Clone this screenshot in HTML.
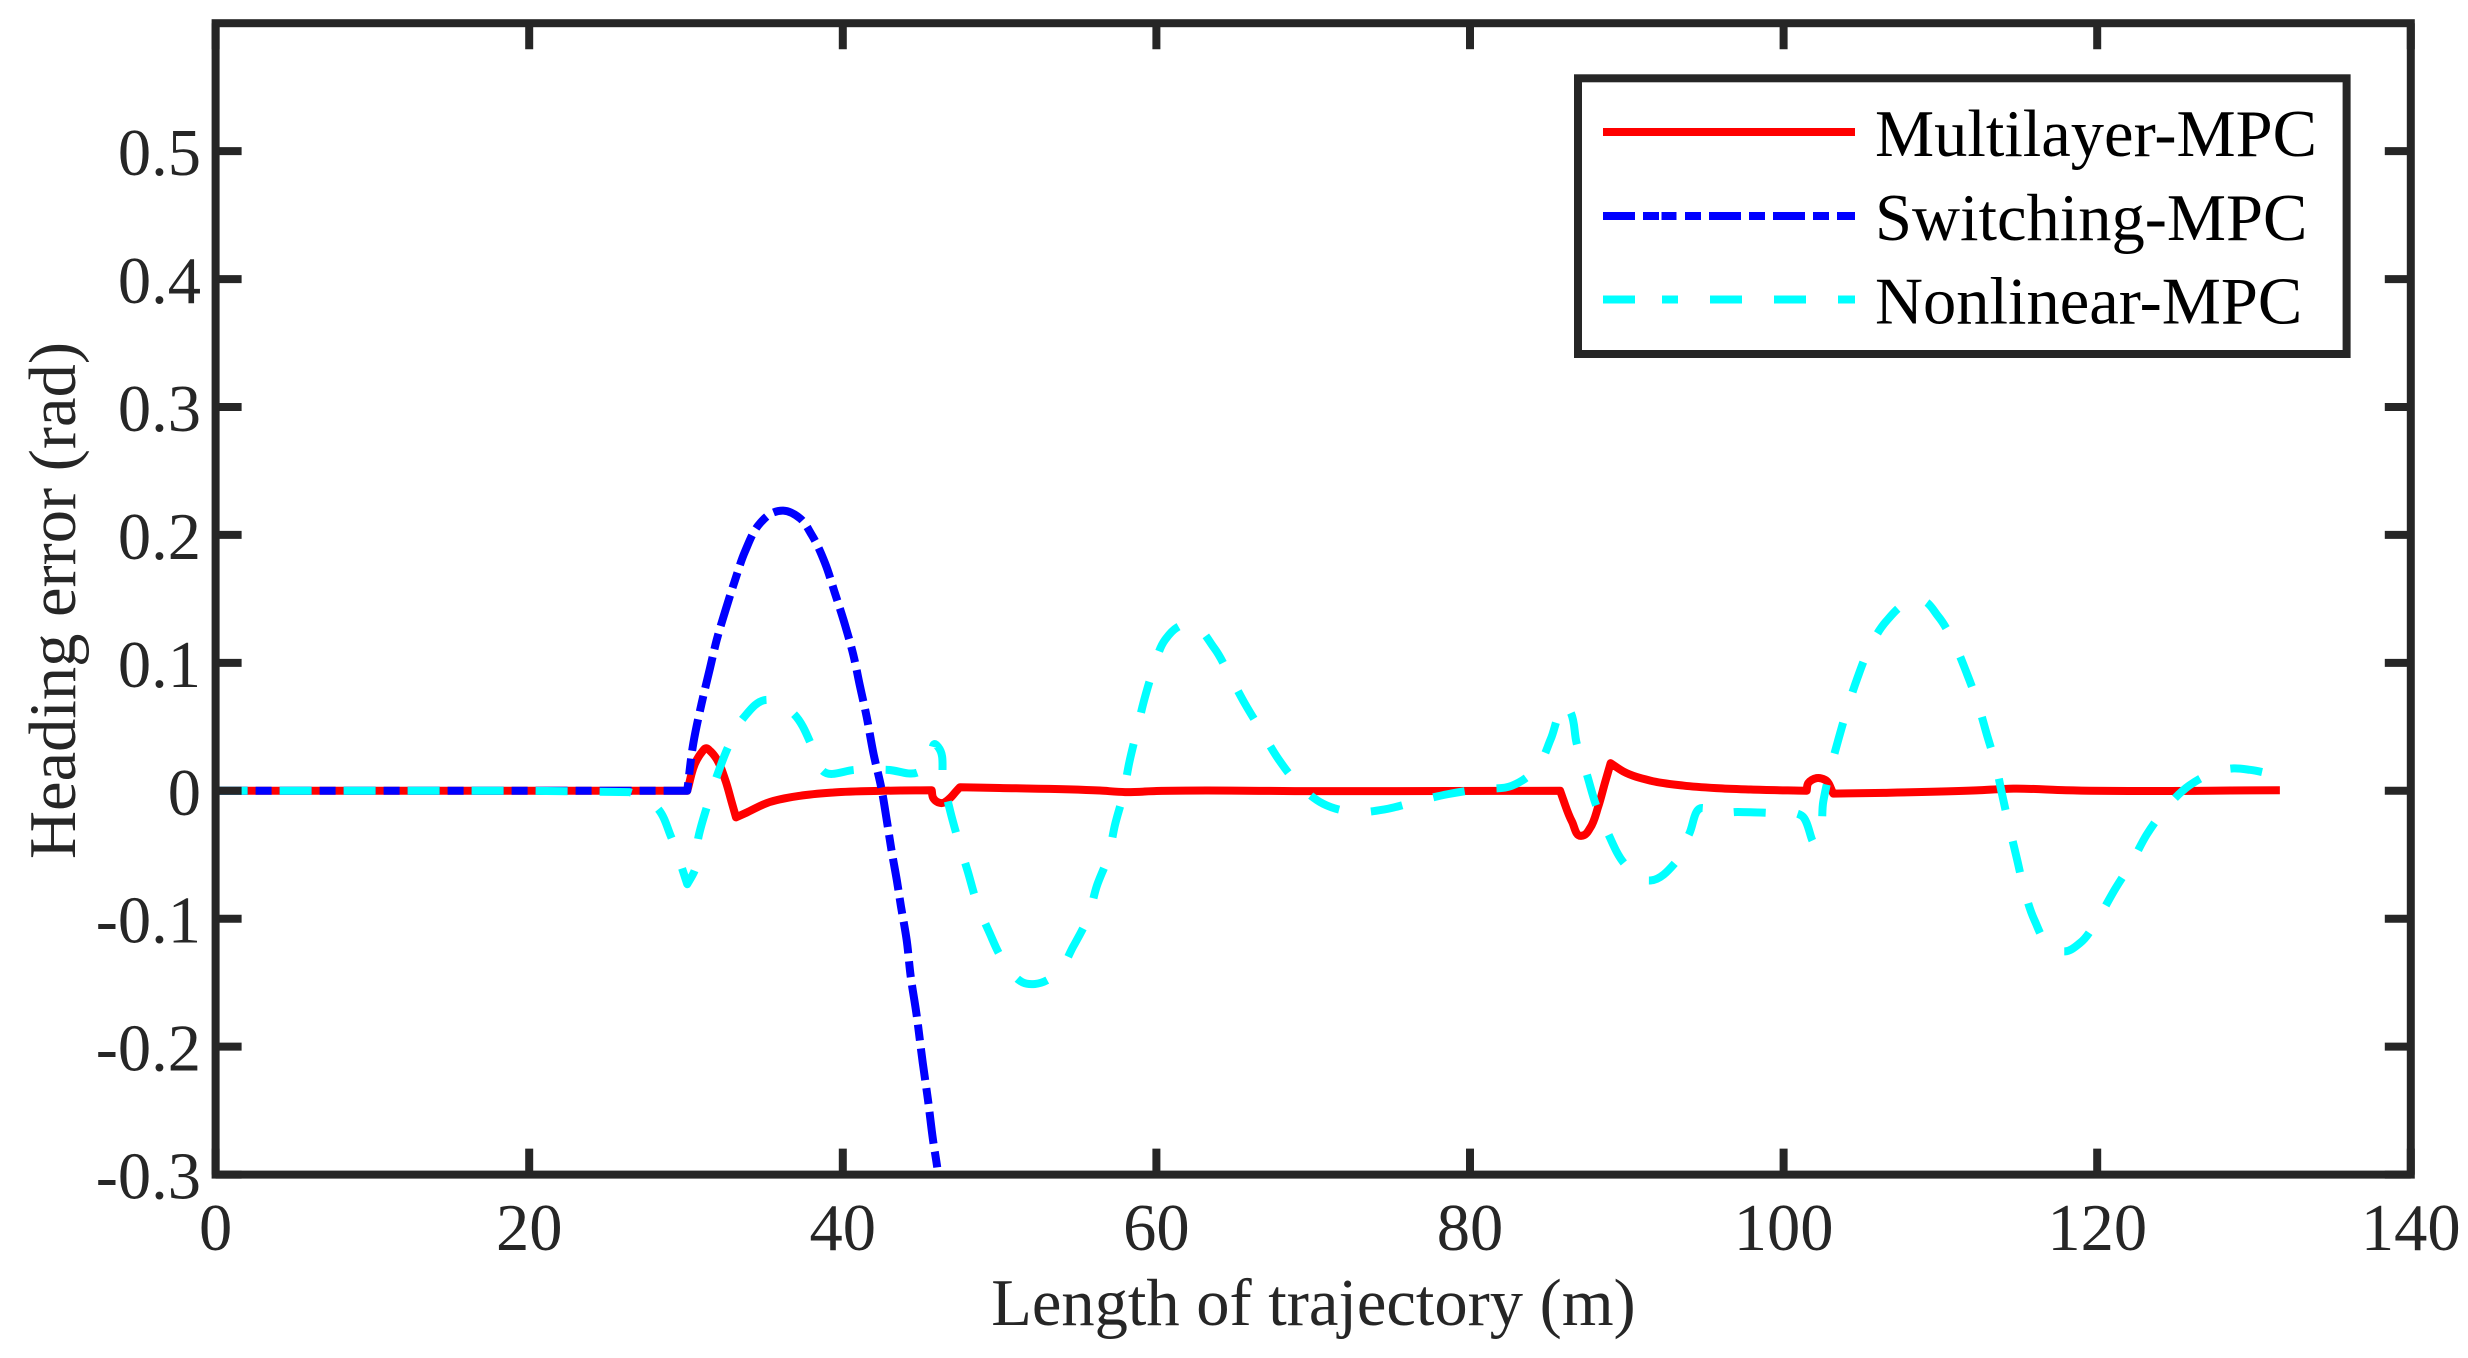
<!DOCTYPE html>
<html lang="en">
<head>
<meta charset="utf-8">
<title>Heading error vs length of trajectory</title>
<style>
html,body{margin:0;padding:0;background:#fff;}
svg{display:block;}
text{font-family:"Liberation Serif",serif;font-size:66.5px;}
</style>
</head>
<body>
<svg id="chart" xmlns="http://www.w3.org/2000/svg" width="2468" height="1358" viewBox="0 0 2468 1358">
  <rect x="0" y="0" width="2468" height="1358" fill="#fff"/>
  <defs>
    <clipPath id="plot-clip"><rect x="215.6" y="23" width="2195.2" height="1152"/></clipPath>
  </defs>
  <g id="series-layer" clip-path="url(#plot-clip)"></g>
  <g id="axes-layer"></g>
  <text x="1313.5" y="1325" text-anchor="middle" fill="#262626">Length of trajectory (m)</text>
  <text transform="translate(75,600.5) rotate(-90)" text-anchor="middle" fill="#262626">Heading error (rad)</text>
  <g>
    <rect x="1578" y="78.3" width="768.6" height="275.7" fill="#fff" stroke="#262626" stroke-width="8"/>
    <line x1="1603" x2="1855" y1="132" y2="132" stroke="#f00" stroke-width="8"/>
    <text x="1875" y="156" fill="#000">Multilayer-MPC</text>
    <line x1="1603" x2="1855" y1="216" y2="216" stroke="#00f" stroke-width="8" stroke-dasharray="32 8 16 2.5 15 8.5 16 8 32 8 16 8 32 8 16 8 18 100"/>
    <text x="1875" y="240" fill="#000">Switching-MPC</text>
    <line x1="1603" x2="1855" y1="299.5" y2="299.5" stroke="#0ff" stroke-width="8" stroke-dasharray="32 27 16 32 32 32 32 32 18 100"/>
    <text x="1875" y="323.5" fill="#000">Nonlinear-MPC</text>
  </g>
</svg>
<script>
// Chart data
const xTicks = [0, 20, 40, 60, 80, 100, 120, 140];
const yTicks = [-0.3, -0.2, -0.1, 0, 0.1, 0.2, 0.3, 0.4, 0.5];
const yTickLabels = ['-0.3', '-0.2', '-0.1', '0', '0.1', '0.2', '0.3', '0.4', '0.5'];

const multilayerX = [0, 30.08, 30.68, 31.0, 31.3, 31.55, 31.85, 32.5, 32.9, 33.19, 33.87, 35.15, 37.27, 39.4, 42.6, 45.67, 45.77, 46.0, 46.3, 46.84, 47.2, 47.47, 50, 56.4, 58, 60, 70, 85.75, 85.95, 86.5, 87.08, 87.3, 87.66, 88.18, 88.6, 88.97, 89.78, 91.5, 93.6, 95.7, 97.9, 101.47, 101.57, 101.8, 102.1, 102.64, 103.17, 106.4, 112.3, 114.65, 118, 131.65];
const multilayerY = [0, 0, 0.024, 0.03, 0.0333, 0.031, 0.0268, 0.0086, -0.0083, -0.0208, -0.017, -0.0096, -0.0039, -0.0013, 0, 0.0004, -0.0057, -0.0085, -0.0096, -0.0057, -0.0008, 0.0028, 0.0022, 0.0002, -0.001, -0.0002, -0.0003, 0, -0.007, -0.024, -0.0352, -0.0345, -0.0291, -0.0123, 0.006, 0.0216, 0.0151, 0.008, 0.0041, 0.0021, 0.001, 0, 0.006, 0.0085, 0.0099, 0.0086, -0.0022, -0.0016, 0.0003, 0.0017, 0.0004, 0.0004];
const multilayerBreaks = [30.08, 33.19, 45.67, 47.47, 85.75, 88.97, 101.47, 103.17];

const switchingX = [0, 30.08, 30.47, 31, 31.53, 31.96, 32.49, 33.13, 33.76, 34.72, 35.47, 36.2, 37.27, 38.02, 38.87, 39.5, 40.14, 40.67, 41.1, 41.52, 41.95, 42.48, 42.8, 43.1, 43.44, 43.71, 44.07, 44.33, 44.69, 45.1, 45.43, 45.75, 46.04, 46.1];
const switchingY = [0, 0, 0.0373, 0.0685, 0.0958, 0.118, 0.14, 0.1648, 0.187, 0.2091, 0.217, 0.219, 0.213, 0.2, 0.1779, 0.1544, 0.1297, 0.1063, 0.0815, 0.058, 0.0295, 0.0008, -0.0227, -0.0461, -0.0695, -0.0904, -0.1164, -0.145, -0.1737, -0.2128, -0.2414, -0.2727, -0.296, -0.302];
const switchingBreaks = [30.08];

const nonlinearX = [0, 20, 26.4, 27.3, 28.17, 29.04, 29.72, 30.08, 30.53, 30.78, 31.32, 31.96, 32.7, 33.65, 35.15, 36.0, 36.89, 37.9, 38.3, 38.7, 40.84, 42.84, 44.92, 45.5, 45.95, 46.09, 46.4, 46.84, 47.37, 47.97, 48.54, 49.32, 50.28, 51.73, 52.26, 53.64, 54.7, 55.66, 56.19, 56.93, 57.36, 57.89, 58.27, 58.74, 59.21, 59.8, 60.55, 61.3, 61.82, 62.25, 63.69, 64.69, 65.65, 66.72, 67.78, 69.05, 70.64, 72.56, 74.58, 76.64, 78.6, 80.6, 82.66, 84.25, 85.15, 85.85, 86.1, 86.42, 86.8, 87.44, 88.03, 88.82, 89.82, 91, 91.48, 93.07, 93.98, 94.88, 95.4, 97.1, 99.17, 101.16, 102.1, 102.25, 102.53, 102.96, 103.5, 104.06, 104.7, 105.45, 106.53, 108.06, 108.8, 109.87, 110.87, 111.68, 112.38, 112.95, 113.53, 113.95, 114.4, 114.87, 115.35, 115.99, 117.03, 117.96, 118.9, 120.07, 121.14, 122.2, 123.15, 124.39, 125.87, 127.62, 128.7, 129.74, 131.7];
const nonlinearY = [0, 0, -0.001, -0.005, -0.0135, -0.0357, -0.0596, -0.073, -0.063, -0.037, -0.013, 0.0112, 0.0346, 0.0568, 0.0711, 0.0685, 0.0599, 0.0385, 0.025, 0.0158, 0.0164, 0.0164, 0.0152, 0.022, 0.036, 0.0341, 0.0091, -0.0154, -0.039, -0.063, -0.087, -0.11, -0.1334, -0.1508, -0.151, -0.143, -0.1216, -0.0982, -0.0748, -0.0513, -0.0266, -0.0026, 0.0221, 0.0463, 0.0705, 0.0945, 0.118, 0.1275, 0.1302, 0.1297, 0.1115, 0.0898, 0.068, 0.0463, 0.0248, 0.0052, -0.0102, -0.0166, -0.0145, -0.0081, -0.0026, 0.0013, 0.0039, 0.0177, 0.0404, 0.0638, 0.068, 0.0612, 0.0373, 0.0133, -0.0109, -0.0338, -0.0565, -0.0695, -0.0701, -0.0565, -0.0336, -0.0135, -0.0165, -0.0166, -0.0174, -0.0195, -0.0396, -0.036, -0.0084, 0.0156, 0.0404, 0.0641, 0.088, 0.1109, 0.1323, 0.1479, 0.149, 0.1362, 0.1154, 0.0919, 0.0685, 0.0445, 0.0203, -0.0037, -0.0284, -0.0526, -0.0773, -0.1008, -0.1216, -0.1255, -0.119, -0.0995, -0.0768, -0.056, -0.0344, -0.0135, 0.0041, 0.0151, 0.0175, 0.0164, 0.0112];
const nonlinearBreaks = [20, 26.4, 30.08, 86.1];

// Axis functions
const xMin = 0, xMax = 140, yMin = -0.3, yMax = 0.6;
const plotLeft = 215.6, plotRight = 2410.8, plotTop = 23.2, plotBottom = 1174.6;
function xScale(v) { return plotLeft + (v - xMin) / (xMax - xMin) * (plotRight - plotLeft); }
function yScale(v) { return plotBottom - (v - yMin) / (yMax - yMin) * (plotBottom - plotTop); }

const SVG_NS = 'http://www.w3.org/2000/svg';
const seriesLayer = document.getElementById('series-layer');
const axesLayer = document.getElementById('axes-layer');

function unit(a, b) {
  const dx = b[0] - a[0], dy = b[1] - a[1], len = Math.hypot(dx, dy) || 1;
  return [dx / len, dy / len, len];
}

// Smooth curve through the points, keeping sharp corners at the x values listed in breaks.
function smoothPath(xs, ys, breaks) {
  const pts = xs.map(function (x, i) { return [xScale(x), yScale(ys[i])]; });
  const tangents = pts.map(function (p, i) {
    if (i === 0 || i === pts.length - 1) return null;
    const a = unit(pts[i - 1], p), b = unit(p, pts[i + 1]);
    const tx = a[0] * b[2] + b[0] * a[2], ty = a[1] * b[2] + b[1] * a[2];
    const len = Math.hypot(tx, ty) || 1;
    return [tx / len, ty / len];
  });
  const isBreak = xs.map(function (x) { return breaks.indexOf(x) !== -1; });
  let d = 'M' + pts[0][0].toFixed(2) + ' ' + pts[0][1].toFixed(2);
  for (let i = 0; i < pts.length - 1; i++) {
    const p = pts[i], q = pts[i + 1], chord = unit(p, q), h = chord[2] / 3;
    const t0 = (tangents[i] && !isBreak[i]) ? tangents[i] : chord;
    const t1 = (tangents[i + 1] && !isBreak[i + 1]) ? tangents[i + 1] : chord;
    d += 'C' + (p[0] + t0[0] * h).toFixed(2) + ' ' + (p[1] + t0[1] * h).toFixed(2) + ' ' +
         (q[0] - t1[0] * h).toFixed(2) + ' ' + (q[1] - t1[1] * h).toFixed(2) + ' ' +
         q[0].toFixed(2) + ' ' + q[1].toFixed(2);
  }
  return d;
}

function strokePath(d, color, dash) {
  const el = document.createElementNS(SVG_NS, 'path');
  el.setAttribute('d', d);
  el.setAttribute('fill', 'none');
  el.setAttribute('stroke', color);
  el.setAttribute('stroke-width', '8');
  el.setAttribute('stroke-linejoin', 'round');
  if (dash) el.setAttribute('stroke-dasharray', dash);
  return el;
}

// Series
const redLine = strokePath(smoothPath(multilayerX, multilayerY, multilayerBreaks), '#f00', null);


seriesLayer.appendChild(redLine);

const blueLine = strokePath(smoothPath(switchingX, switchingY, switchingBreaks), '#00f', '32 8 16 8');


seriesLayer.appendChild(blueLine);

const cyanLine = strokePath(smoothPath(nonlinearX, nonlinearY, nonlinearBreaks), '#0ff', '32 32');


seriesLayer.appendChild(cyanLine);

// Plot frame
const frame = document.createElementNS(SVG_NS, 'rect');
frame.setAttribute('x', plotLeft);
frame.setAttribute('y', plotTop);
frame.setAttribute('width', plotRight - plotLeft);
frame.setAttribute('height', plotBottom - plotTop);
frame.setAttribute('fill', 'none');
frame.setAttribute('stroke', '#262626');
frame.setAttribute('stroke-width', '8');


axesLayer.appendChild(frame);

function tickLine(x1, y1, x2, y2) {
  const el = document.createElementNS(SVG_NS, 'line');
  el.setAttribute('x1', x1);
  el.setAttribute('y1', y1);
  el.setAttribute('x2', x2);
  el.setAttribute('y2', y2);
  el.setAttribute('stroke', '#262626');
  el.setAttribute('stroke-width', '8');
  return el;
}

// X ticks and labels
xTicks.forEach(function (v) {
  const px = xScale(v);
  const bottomTick = tickLine(px, plotBottom, px, plotBottom - 26);
  
  
  axesLayer.appendChild(bottomTick);
  const topTick = tickLine(px, plotTop, px, plotTop + 26);
  
  
  axesLayer.appendChild(topTick);
  const label = document.createElementNS(SVG_NS, 'text');
  label.setAttribute('x', px);
  label.setAttribute('y', 1250);
  label.setAttribute('text-anchor', 'middle');
  label.setAttribute('fill', '#262626');
  
  
  label.textContent = String(v);
  axesLayer.appendChild(label);
});

// Y ticks and labels
yTicks.forEach(function (v, i) {
  const py = yScale(v);
  const leftTick = tickLine(plotLeft, py, plotLeft + 26, py);
  
  
  axesLayer.appendChild(leftTick);
  const rightTick = tickLine(plotRight, py, plotRight - 26, py);
  
  
  axesLayer.appendChild(rightTick);
  const label = document.createElementNS(SVG_NS, 'text');
  label.setAttribute('x', 201);
  label.setAttribute('y', py + 24);
  label.setAttribute('text-anchor', 'end');
  label.setAttribute('fill', '#262626');
  
  
  label.textContent = yTickLabels[i];
  axesLayer.appendChild(label);
});
</script>
</body>
</html>
